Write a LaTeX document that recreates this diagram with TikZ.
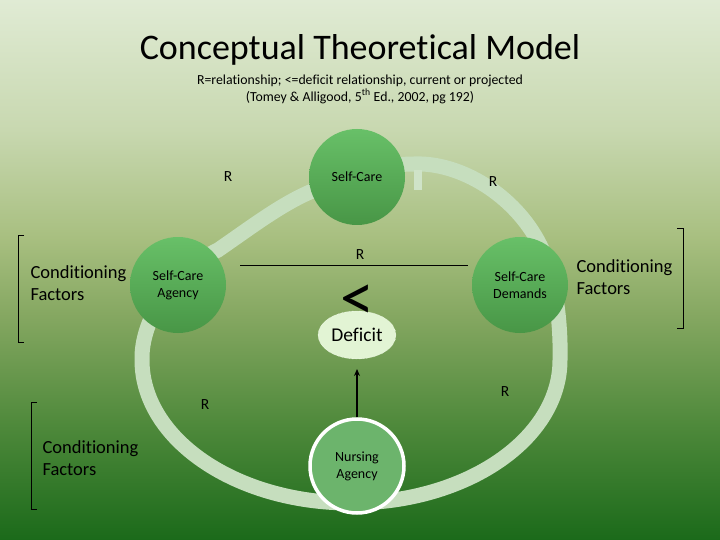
\documentclass[tikz,border=0pt]{standalone}
\usepackage{fontspec}
\setmainfont{Carlito}[Ligatures={NoCommon,NoContextual}]
\usetikzlibrary{arrows.meta,shapes.geometric}
\definecolor{bg0}{RGB}{224,235,212}
\definecolor{bg1}{RGB}{200,216,176}
\definecolor{bg2}{RGB}{168,191,128}
\definecolor{bg3}{RGB}{134,168,98}
\definecolor{bg4}{RGB}{80,138,60}
\definecolor{bg5}{RGB}{27,106,26}
\definecolor{ringcol}{RGB}{198,222,190}
\definecolor{nodetop}{RGB}{104,192,104}
\definecolor{nodebot}{RGB}{72,150,70}
\definecolor{nursefill}{RGB}{108,180,108}
\definecolor{deffill}{RGB}{226,244,212}
\pgfdeclareverticalshading{bgshade}{100bp}{color(0bp)=(bg5); color(25bp)=(bg5); color(36bp)=(bg4); color(46bp)=(bg3); color(53bp)=(bg2); color(63bp)=(bg1); color(75bp)=(bg0); color(100bp)=(bg0)}
\begin{document}
\begin{tikzpicture}[x=1pt,y=-1pt,
  green node/.style={circle, minimum size=96pt, inner sep=0pt, align=center, top color=nodetop, bottom color=nodebot, font=\fontsize{14}{17}\selectfont},
  rlabel/.style={font=\fontsize{15.5}{17}\selectfont},
  cond/.style={font=\fontsize{18.5}{22}\selectfont, align=left, anchor=west},
  bracket/.style={draw=black, line width=0.9pt}]
\shade[shading=bgshade] (0,0) rectangle (720,540);
\useasboundingbox (0,0) rectangle (720,540);
% ring
\draw[ringcol, line width=15pt]
  (560,360) arc[start angle=0, end angle=-180, x radius=209pt, y radius=143pt]
  .. controls (141,320) and (172,272) .. (218,250)
  .. controls (250,228) and (280,205) .. (310,192)
  .. controls (345,176) and (380,164) .. (414,164)
  .. controls (460,162) and (515,195) .. (540,245)
  .. controls (555,275) and (561,320) .. (560,360) -- cycle;
\fill[ringcol!85!white] (414,170) rectangle (422,190);
% title
\node (title) at (360,50) {\fontsize{36}{40}\selectfont Conceptual Theoretical Model};
\node[align=center, font=\fontsize{13.8}{17}\selectfont] (sub) at (360,89) {R=relationship; <=deficit relationship, current or projected\\(Tomey \& Alligood, 5\textsuperscript{th} Ed., 2002, pg 192)};
% nodes
\node[green node] (selfcare) at (357,177) {Self-Care};
\node[green node] (agency) at (178,285) {Self-Care\\Agency};
\node[green node] (demands) at (520,285) {Self-Care\\Demands};
\node[circle, minimum size=94pt, inner sep=0pt, align=center, fill=nursefill, draw=white, line width=3.5pt, font=\fontsize{14}{17}\selectfont] (nursing) at (357,466) {Nursing\\Agency};
\node[ellipse, minimum width=78pt, minimum height=48pt, inner sep=0pt, fill=deffill, draw=white, densely dotted, font=\fontsize{19.5}{20}\selectfont] (deficit) at (357,335) {Deficit};
\node[inner sep=0pt, font=\fontsize{68}{68}\selectfont] (less) at (357,303) {<};
% R labels
\node[rlabel] (r1) at (228,177) {R};
\node[rlabel] (r2) at (493,182) {R};
\node[rlabel] (r3) at (360,255) {R};
\node[rlabel] (r4) at (205,405) {R};
\node[rlabel] (r5) at (505,392) {R};
% connectors
\coordinate (lineL) at (240,265);
\coordinate (lineR) at (468,265);
\draw[line width=1pt] (lineL) -- (lineR);
\coordinate (arrtip) at (357,369);
\draw[line width=1.4pt, -{Stealth[length=7pt,width=6pt]}] (nursing.north) -- (arrtip);
% conditioning factors
\node[cond] (cf1) at (27,283) {Conditioning\\Factors};
\node[cond] (cf2) at (573,277) {Conditioning\\Factors};
\node[cond] (cf3) at (39,458) {Conditioning\\Factors};
% brackets
\draw[bracket] (24,235) -- (18,235) -- (18,342) -- (24,342);
\draw[bracket] (677,228) -- (683,228) -- (683,328) -- (677,328);
\draw[bracket] (37,402) -- (31,402) -- (31,509) -- (37,509);
\end{tikzpicture}
\end{document}
